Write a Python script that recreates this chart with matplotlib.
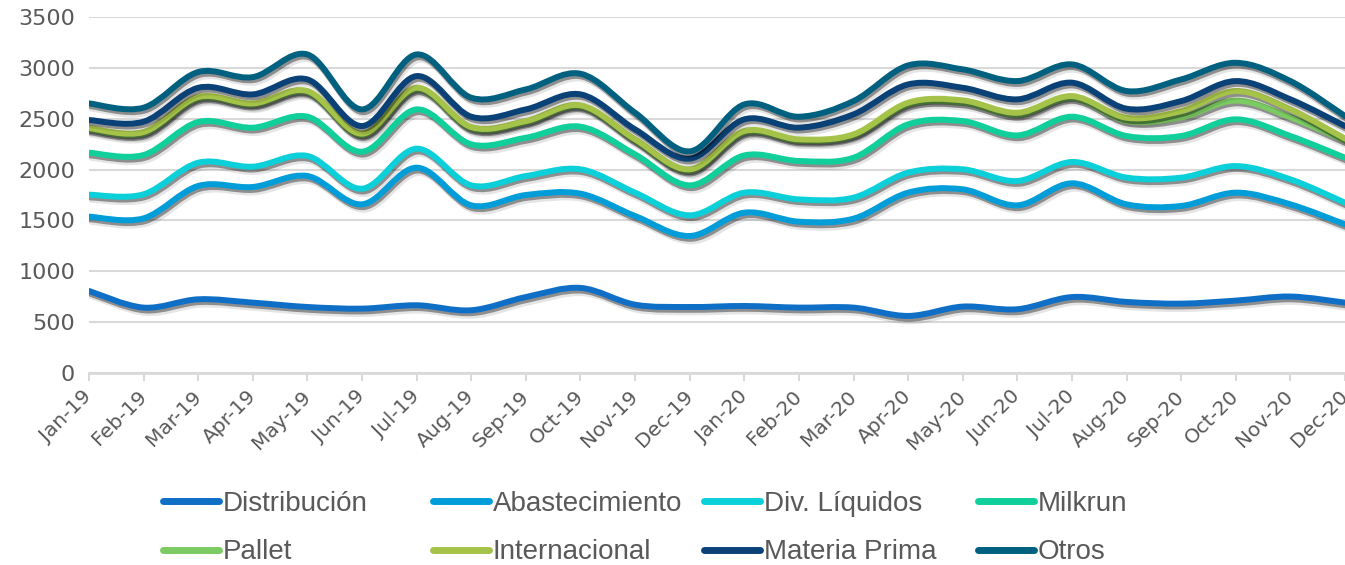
import numpy as np
import matplotlib
matplotlib.use("Agg")
import matplotlib.pyplot as plt
from matplotlib.path import Path
from matplotlib.patches import PathPatch
from matplotlib.lines import Line2D
import matplotlib.patheffects as pe

months = ['Jan-19', 'Feb-19', 'Mar-19', 'Apr-19', 'May-19', 'Jun-19', 'Jul-19', 'Aug-19',
          'Sep-19', 'Oct-19', 'Nov-19', 'Dec-19', 'Jan-20', 'Feb-20', 'Mar-20', 'Apr-20',
          'May-20', 'Jun-20', 'Jul-20', 'Aug-20', 'Sep-20', 'Oct-20', 'Nov-20', 'Dec-20']

distribucion = [805, 641, 723, 690, 647, 631, 664, 615, 745, 835, 670, 647,
                657, 641, 641, 559, 651, 625, 745, 697, 680, 710, 750, 690]
abastecimiento = [1537, 1520, 1839, 1829, 1937, 1658, 2019, 1648, 1750, 1763, 1543, 1346,
                  1576, 1487, 1517, 1773, 1806, 1648, 1865, 1658, 1642, 1773, 1658, 1461]
div_liquidos = [1753, 1757, 2068, 2029, 2134, 1812, 2206, 1845, 1937, 2003, 1773, 1550,
                1773, 1707, 1724, 1970, 2003, 1888, 2075, 1921, 1921, 2035, 1904, 1674]
milkrun = [2167, 2144, 2469, 2413, 2521, 2176, 2593, 2249, 2314, 2423, 2150, 1845,
           2140, 2085, 2117, 2446, 2478, 2337, 2521, 2331, 2331, 2495, 2331, 2117]
pallet = [2395, 2355, 2700, 2640, 2760, 2340, 2790, 2405, 2465, 2620, 2285, 1990,
          2365, 2285, 2335, 2640, 2660, 2540, 2705, 2480, 2515, 2680, 2515, 2285]
internacional = [2409, 2370, 2715, 2652, 2774, 2354, 2806, 2419, 2478, 2633, 2298, 2003,
                 2380, 2298, 2347, 2659, 2682, 2560, 2724, 2511, 2577, 2774, 2593, 2305]
materia_prima = [2488, 2472, 2806, 2741, 2888, 2429, 2921, 2521, 2593, 2741, 2396, 2108,
                 2495, 2413, 2544, 2839, 2806, 2692, 2856, 2600, 2675, 2872, 2692, 2429]
otros = [2652, 2610, 2961, 2911, 3134, 2593, 3134, 2708, 2790, 2944, 2560, 2180,
         2642, 2521, 2675, 3026, 2987, 2872, 3036, 2774, 2888, 3052, 2872, 2527]

names = ['Distribución', 'Abastecimiento', 'Div. Líquidos', 'Milkrun',
         'Pallet', 'Internacional', 'Materia Prima', 'Otros']
series = [distribucion, abastecimiento, div_liquidos, milkrun,
          pallet, internacional, materia_prima, otros]
colors = ['#0F6FC6', '#009DD9', '#0BD0D9', '#10CF9B',
          '#7CCA62', '#A5C249', '#0A4177', '#00607F']


def smooth_path(x, y):
    # Catmull-Rom style bezier, like Excel's "smoothed line"
    n = len(x)
    verts = [(x[0], y[0])]
    codes = [Path.MOVETO]
    for i in range(n - 1):
        a = max(i - 1, 0)
        b = min(i + 2, n - 1)
        c1 = (x[i] + (x[i + 1] - x[a]) / 6, y[i] + (y[i + 1] - y[a]) / 6)
        c2 = (x[i + 1] - (x[b] - x[i]) / 6, y[i + 1] - (y[b] - y[i]) / 6)
        verts += [c1, c2, (x[i + 1], y[i + 1])]
        codes += [Path.CURVE4] * 3
    return Path(verts, codes)


fig = plt.figure(figsize=(13.45, 5.65), dpi=100)
ax = fig.add_axes([89 / 1345, 1 - 372.7 / 565, 1 - 89 / 1345, (372.7 - 17.3) / 565])

x = np.arange(len(months))
shadow = [pe.SimpleLineShadow(offset=(2, -3.5), shadow_color='black', alpha=0.10, linewidth=5),
          pe.SimpleLineShadow(offset=(1, -2), shadow_color='black', alpha=0.38),
          pe.Normal()]
for vals, col in zip(series, colors):
    p = PathPatch(smooth_path(x, np.array(vals, float)), fill=False, edgecolor=col,
                  linewidth=4.3, capstyle='round', joinstyle='round', zorder=3,
                  path_effects=shadow)
    ax.add_patch(p)

ax.set_xlim(0, len(months) - 1)
ax.set_ylim(0, 3500)
ax.set_yticks(range(0, 3501, 500))
ax.set_xticks(x)
ax.set_xticklabels(months, rotation=45, ha='right', va='center', rotation_mode='anchor')
ax.grid(axis='y', color='#D9D9D9', linewidth=1.5)
ax.set_axisbelow(True)
for s in ['top', 'right', 'left']:
    ax.spines[s].set_visible(False)
ax.spines['bottom'].set_color('#D9D9D9')
ax.spines['bottom'].set_linewidth(2)
ax.tick_params(axis='x', colors='#595959', length=6, width=1.5, color='#D9D9D9',
               labelsize=14.5, pad=9)
ax.tick_params(axis='y', colors='#595959', length=0, labelsize=16, pad=10)

# legend: 4 equal-width columns, two rows each
col_x = [163, 433, 704, 978]
for c in range(4):
    idx = [c, c + 4]
    hs = [Line2D([], [], color=colors[i], linewidth=5, solid_capstyle='round') for i in idx]
    leg = fig.legend(hs, [names[i] for i in idx], loc='center left',
                     bbox_to_anchor=(col_x[c] / 1345, 1 - 528 / 565),
                     frameon=False, handlelength=2.0, handletextpad=0.15, borderpad=0,
                     borderaxespad=0, labelspacing=0.82, labelcolor='#595959',
                     prop={'family': 'Liberation Sans', 'size': 20})

fig.savefig('out.png', dpi=100)
